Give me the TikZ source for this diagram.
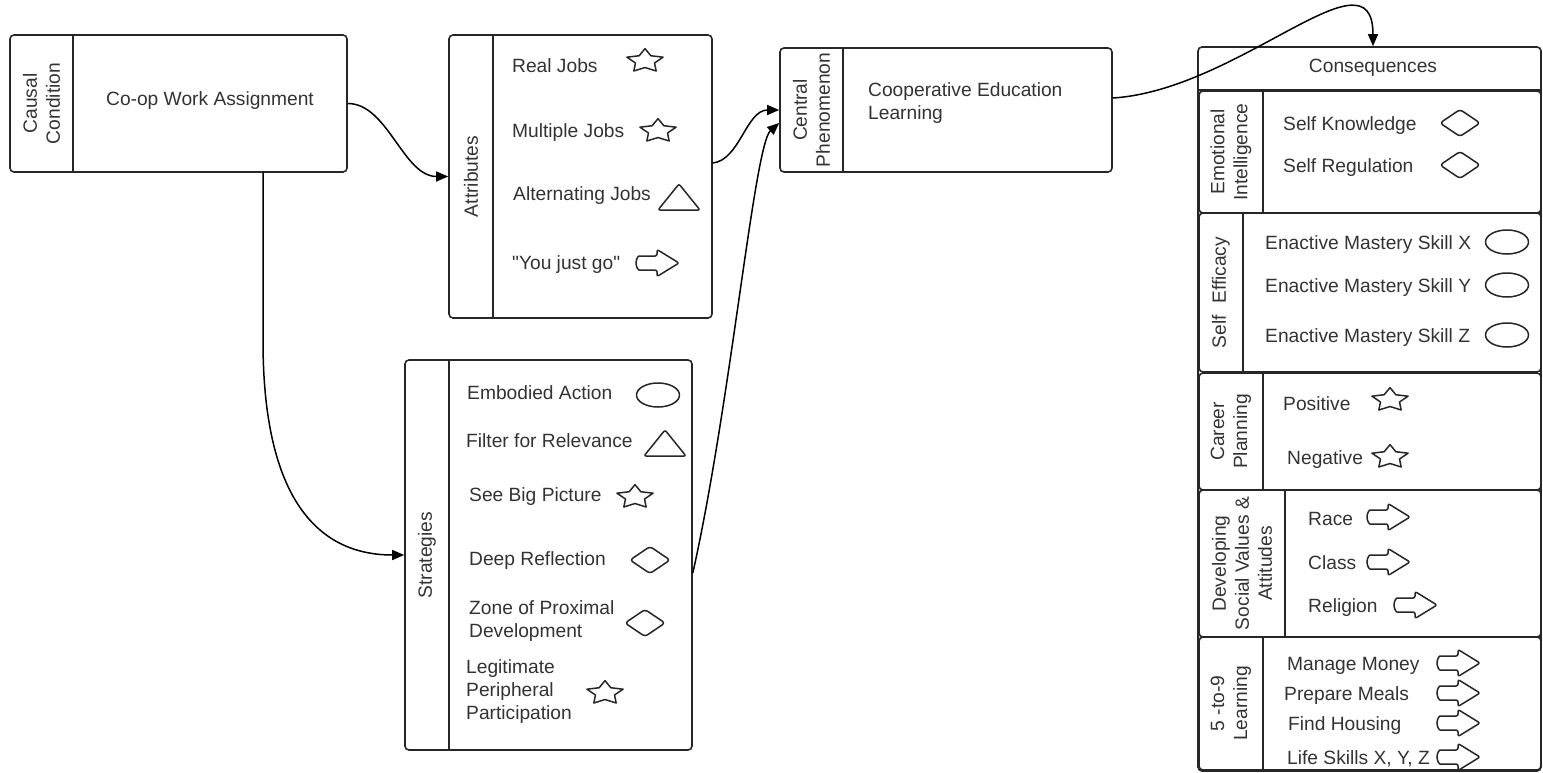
\documentclass[tikz,border=0pt]{standalone}
\usepackage{fontspec}
\setmainfont{Liberation Sans}
\newfontfamily\plainquote{Liberation Sans}
\usetikzlibrary{arrows.meta,calc}
\begin{document}
\begin{tikzpicture}[x=1pt,y=-1pt,
  every node/.style={font=\fontsize{19.2}{23}\selectfont, text=black!80},
  box/.style={draw=black!85, line width=1.6pt, rounded corners=4pt, inner sep=0pt, fill=white},
  div/.style={draw=black!85, line width=1.4pt},
  lbl/.style={rotate=90, align=center, inner sep=0pt},
  itm/.style={anchor=base west, inner sep=0pt},
  itmm/.style={anchor=west, inner sep=0pt, align=left},
  conn/.style={draw=black, line width=1.5pt, -{Triangle[length=12pt,width=10pt]}},
  icon/.style={draw=black!85, line width=1.5pt, line join=round, fill=white},
  picstar/.pic={\draw[icon, yscale=0.65] (90:19pt) -- (126:10pt) -- (162:19pt) -- (198:10pt) -- (234:19pt) -- (270:10pt) -- (306:19pt) -- (342:10pt) -- (18:19pt) -- (54:10pt) -- cycle;},
  picdiam/.pic={\draw[icon, rounded corners=3pt] (-20pt,0pt) -- (0pt,13.5pt) -- (20pt,0pt) -- (0pt,-13.5pt) -- cycle;},
  picell/.pic={\draw[icon] (0pt,0pt) ellipse [x radius=21.5pt, y radius=12pt];},
  pictri/.pic={\draw[icon, rounded corners=2pt] (-21pt,-13pt) -- (21pt,-13pt) -- (0pt,13pt) -- cycle;},
  picarr/.pic={\draw[icon, rounded corners=2pt] (0pt,7pt) -- (-16pt,7pt) arc[start angle=90, end angle=270, x radius=5pt, y radius=7pt] -- (0pt,-7pt) -- (0pt,-13.5pt) -- (22pt,0pt) -- (0pt,13.5pt) -- cycle;}
]
\useasboundingbox[fill=white] (0,0) rectangle (1543,772);

% ---------- Causal condition ----------
\node[box, minimum width=337pt, minimum height=137pt] (causal) at (178.5,103.5) {};
\draw[div] (73,35) -- (73,172);
\node[lbl] (causallbl) at (41.5,103.5) {Causal\\Condition};
\node[inner sep=0pt] (causaltxt) at (210,101) {Co-op Work Assignment};

% ---------- Attributes ----------
\node[box, minimum width=263pt, minimum height=283pt] (attr) at (580.5,176.5) {};
\draw[div] (493,35) -- (493,318);
\node[lbl] (attrlbl) at (471,176.5) {Attributes};
\node[itm] (a1) at (512,72) {Real Jobs};
\pic at (645,61) {picstar};
\node[itm] (a2) at (512,137) {Multiple Jobs};
\pic at (658,131) {picstar};
\node[itm] (a3) at (513,200) {Alternating Jobs};
\pic at (679,197) {pictri};
\node[itm] (a4) at (512,269) {{\plainquote "}You just go{\plainquote "}};
\pic at (657,263) {picarr};

% ---------- Central phenomenon ----------
\node[box, minimum width=332pt, minimum height=124pt] (central) at (946,110) {};
\draw[div] (843,48) -- (843,172);
\node[lbl] (centrallbl) at (811.5,110) {Central\\Phenomenon};
\node[itmm] (centraltxt) at (868,103.5) {Cooperative Education\\Learning};

% ---------- Strategies ----------
\node[box, minimum width=287pt, minimum height=390pt] (strat) at (548.5,555) {};
\draw[div] (449,360) -- (449,750);
\node[lbl] (stratlbl) at (427,555) {Strategies};
\node[itm] (s1) at (467,399) {Embodied Action};
\pic at (658,395) {picell};
\node[itm] (s2) at (466,447) {Filter for Relevance};
\pic at (665,443) {pictri};
\node[itm] (s3) at (469,501) {See Big Picture};
\pic at (635,497) {picstar};
\node[itm] (s4) at (469,565) {Deep Reflection};
\pic at (650,560) {picdiam};
\node[itmm] (s5) at (469,621) {Zone of Proximal\\Development};
\pic at (645,623) {picdiam};
\node[itmm] (s6) at (466,692) {Legitimate\\Peripheral\\Participation};
\pic at (605,693) {picstar};

% ---------- Consequences ----------
\node[box, minimum width=343pt, minimum height=724pt] (cons) at (1369.5,409) {};
\draw[div] (1198,90) -- (1541,90);
\node[inner sep=0pt] (conshead) at (1373,68) {Consequences};

% Emotional intelligence
\node[box, minimum width=342pt, minimum height=122pt] (ei) at (1370,152) {};
\draw[div] (1263,91) -- (1263,213);
\node[lbl] (eilbl) at (1231,152) {Emotional\\Intelligence};
\node[itm] (e1) at (1283,130) {Self Knowledge};
\pic at (1460,123) {picdiam};
\node[itm] (e2) at (1283,172) {Self Regulation};
\pic at (1460,165) {picdiam};

% Self efficacy
\node[box, minimum width=342pt, minimum height=159pt] (se) at (1370,292.5) {};
\draw[div] (1243,213) -- (1243,372);
\node[lbl] (selbl) at (1221,292.5) {Self\hspace{6pt} Efficacy};
\node[itm] (f1) at (1265,249) {Enactive Mastery Skill X};
\pic at (1507,242) {picell};
\node[itm] (f2) at (1265,292) {Enactive Mastery Skill Y};
\pic at (1507,285) {picell};
\node[itm] (f3) at (1265,342) {Enactive Mastery Skill Z};
\pic at (1507,335) {picell};

% Career planning
\node[box, minimum width=342pt, minimum height=117pt] (cp) at (1370,431.5) {};
\draw[div] (1263,373) -- (1263,490);
\node[lbl] (cplbl) at (1231,431.5) {Career\\Planning};
\node[itm] (c1) at (1283,410) {Positive};
\pic at (1390,400) {picstar};
\node[itm] (c2) at (1287,464) {Negative};
\pic at (1390,457) {picstar};

% Developing social values
\node[box, minimum width=342pt, minimum height=147pt] (dsv) at (1370,563.5) {};
\draw[div] (1285,490) -- (1285,637);
\node[lbl] (dsvlbl) at (1242,563.5) {Developing\\Social Values \&\\Attitudes};
\node[itm] (d1) at (1308,525) {Race};
\pic at (1388,517) {picarr};
\node[itm] (d2) at (1308,569) {Class};
\pic at (1388,562) {picarr};
\node[itm] (d3) at (1308,612) {Religion};
\pic at (1415,605) {picarr};

% 5-to-9 learning
\node[box, minimum width=342pt, minimum height=133pt] (nine) at (1370,703.5) {};
\draw[div] (1263,637) -- (1263,770);
\node[lbl] (ninelbl) at (1231,703.5) {5 -to-9\\Learning};
\node[itm] (n1) at (1287,670) {Manage Money};
\pic at (1458,663) {picarr};
\node[itm] (n2) at (1284,700) {Prepare Meals};
\pic at (1458,693) {picarr};
\node[itm] (n3) at (1288,730) {Find Housing};
\pic at (1458,723) {picarr};
\node[itm] (n4) at (1287,764) {Life Skills X, Y, Z};
\pic at (1458,757) {picarr};

% ---------- Connectors ----------
\draw[conn] (causal.east) .. controls +(40,0) and +(-45,0) .. (attr.west);
\draw[conn] ([xshift=84.5pt]causal.south) -- ++(0,168) .. controls +(0,160) and +(-85,0) .. (strat.west);
\draw[conn] ([yshift=13.5pt]attr.east) .. controls +(27,-3) and +(-33,0) .. (central.west);
\draw[conn] ([yshift=-18pt]strat.east) .. controls +(38,-170) and +(-25,22) .. ([yshift=-13pt]central.west);
\draw[conn] ([yshift=12pt]central.east) .. controls +(127,-8) and +(0,-102) .. ([xshift=3.5pt]cons.north);
\end{tikzpicture}
\end{document}
